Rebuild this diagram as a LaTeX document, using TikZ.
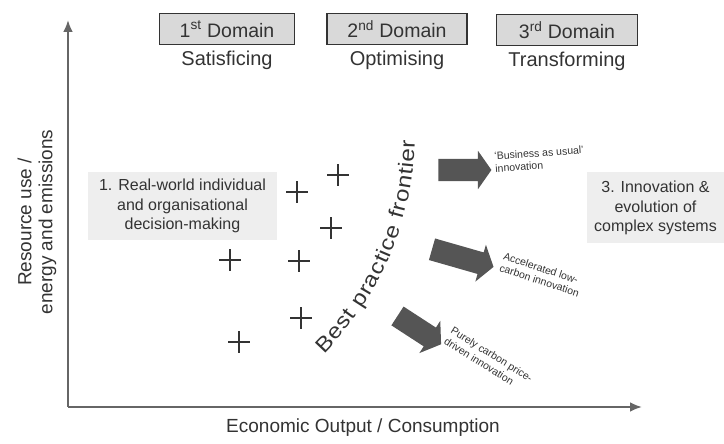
\documentclass[tikz,border=0pt]{standalone}
\usepackage{xcolor}
\usepackage{fontspec}
\setmainfont{Liberation Sans}
\newfontfamily\widesans[FakeStretch=1.15]{Liberation Sans}
\usepackage{tikz}
\usetikzlibrary{shapes, shapes.arrows, arrows.meta, decorations.text, positioning}

\definecolor{ink}{HTML}{333333}
\definecolor{axisgray}{HTML}{666666}
\definecolor{arrowgray}{HTML}{555555}
\definecolor{domainfill}{HTML}{D9D9D9}
\definecolor{hazefill}{HTML}{EEEEEE}

\begin{document}
\begin{tikzpicture}[x=1pt, y=1pt,
  every node/.style={text=ink},
  axisline/.style={draw=axisgray, line width=2.4pt, -{Latex[length=12pt, width=10pt]}},
  domainbox/.style={draw=ink, fill=domainfill, line width=1.1pt, inner sep=0pt, minimum height=31pt, font=\fontsize{19.5}{21}\selectfont},
  modelabel/.style={font=\fontsize{20}{22}\selectfont},
  haze/.style={fill=hazefill, inner sep=0pt, align=center, font=\fontsize{16}{19.5}\selectfont},
  blockarrow/.style={single arrow, fill=arrowgray, draw=none, inner xsep=0pt, inner ysep=11pt, single arrow head extend=8pt, single arrow tip angle=110, single arrow head indent=0pt},
  smalltxt/.style={font=\fontsize{10.5}{12.5}\selectfont, align=left, inner sep=0pt, anchor=north west},
  plusmark/.style={draw=ink, line width=1.4pt}]

\useasboundingbox (0,0) rectangle (724,444);

%//axes, origin at lower left
\coordinate (origin) at (68,37);
\coordinate (ytop) at (68,424);
\coordinate (xend) at (642,37);
\draw[axisline] (origin) -- (ytop);
\draw[axisline] (origin) -- (xend);

\node (ylabel) at (37,222) [rotate=90, align=center, font=\fontsize{19}{21}\selectfont] {Resource use /\\energy and emissions};
\node (xlabel) at (363,16) [font=\fontsize{19}{21}\selectfont] {Economic Output / Consumption};

% the three domains
\node[domainbox, minimum width=135pt] (dom1) at (227,415) {1\textsuperscript{st} Domain};
\node[domainbox, minimum width=140pt] (dom2) at (397,415) {2\textsuperscript{nd} Domain};
\node[domainbox, minimum width=141pt] (dom3) at (567,414) {3\textsuperscript{rd} Domain};

\node[modelabel, below=2pt of dom1] (sat) {Satisficing};
\node[modelabel, below=2pt of dom2] (opt) {Optimising};
\node[modelabel, below=2pt of dom3] (trans) {Transforming};

\node[haze, minimum width=189pt, minimum height=68pt] (real) at (182.5,238) {1. Real-world individual\\and organisational\\decision-making};
\node[haze, minimum width=137pt, minimum height=71pt] (evol) at (655.5,236) {3. Innovation \&\\evolution of\\complex systems};

% firms below the frontier
\foreach \x/\y in {297/252, 338/269, 331/216, 230/184, 299/183, 301/126, 239/102}
\draw[plusmark] (\x-11,\y) -- (\x+11,\y) (\x,\y-11) -- (\x,\y+11);

\coordinate (bpf) at (324,90);
\path[decorate, decoration={text along path, text align=fit to path, text color=ink,
  text={|\widesans\fontsize{21}{21}\selectfont|Best practice frontier}}]
  (bpf) arc[start angle=-45, end angle=-1, radius=310pt];

\node[blockarrow, minimum height=53pt] (usual) at (461,274) {};
\node[blockarrow, minimum height=64pt, rotate=-16] (lowc) at (459,187) {};
\node[blockarrow, minimum height=52pt, rotate=-33] (price) at (416,116) {};

\node[smalltxt, rotate=4] (usualtxt) at (494,292) {`Business as usual'\\innovation};
\node[smalltxt, rotate=-18] (lowctxt) at (505,192) {Accelerated low-\\carbon innovation};
\node[smalltxt, rotate=-32] (pricetxt) at (454,118) {Purely carbon price-\\driven innovation};
\end{tikzpicture}
\end{document}
